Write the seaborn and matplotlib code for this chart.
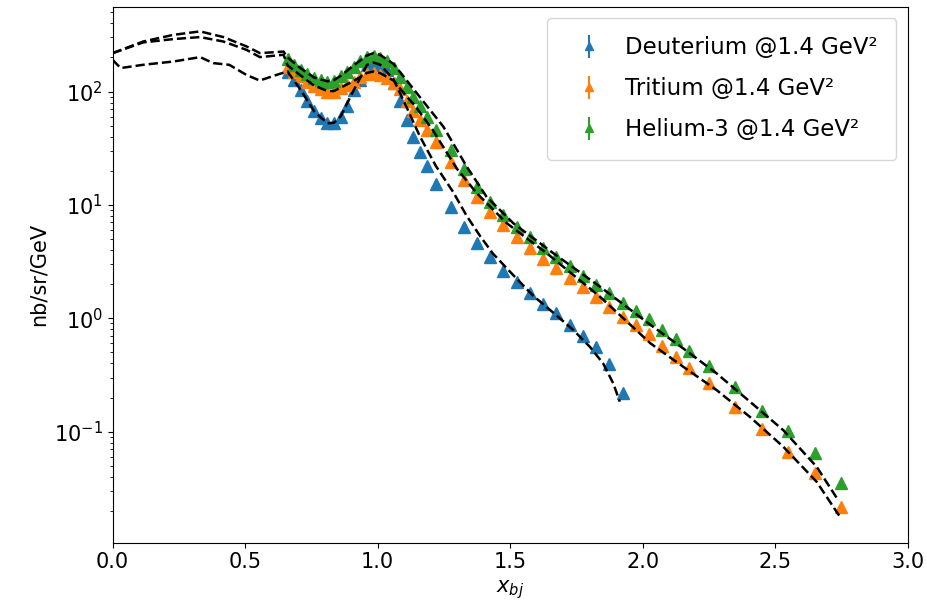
import numpy as np
import pandas as pd
import matplotlib
matplotlib.use("Agg")
import matplotlib.pyplot as plt
import seaborn as sns

# ---------------- data ----------------
x_pts = [0.66, 0.685, 0.71, 0.735, 0.76, 0.785, 0.81, 0.835, 0.86, 0.885, 0.91, 0.935,
         0.96, 0.985, 1.01, 1.035, 1.06, 1.085, 1.11, 1.135, 1.16, 1.185, 1.22, 1.275,
         1.325, 1.375, 1.425, 1.475, 1.525, 1.575, 1.625, 1.675, 1.725, 1.775, 1.825,
         1.875, 1.925, 1.975, 2.025, 2.075, 2.125, 2.175, 2.25, 2.35, 2.45, 2.55, 2.65, 2.75]

deut_y = [150, 127, 103, 82, 67, 58, 52.5, 53, 60, 75, 103, 127,
          172, 180, 172, 155, 120, 82, 56, 40, 29.5, 22.2, 15.2, 9.5,
          6.43, 4.59, 3.45, 2.60, 2.10, 1.68, 1.35, 1.11, 0.868, 0.699, 0.558,
          0.395, 0.220]

trit_y = [166, 150, 136, 122, 112, 105, 100, 100, 107, 115, 122, 134,
          143, 147, 140, 131, 119, 105, 82, 67.5, 56, 45.9, 36.2, 24.1,
          16.6, 11.8, 8.73, 6.59, 5.25, 4.15, 3.32, 2.76, 2.28, 1.88, 1.53,
          1.27, 1.03, 0.873, 0.727, 0.566, 0.455, 0.362, 0.268, 0.164, 0.105, 0.0664, 0.0428, 0.0217]

he3_y = [193, 172, 156, 143, 131, 127, 122, 125, 136, 150, 166, 184,
         201, 207, 197, 184, 161, 134, 109, 90.3, 73.8, 60.2, 45.9, 30.5,
         20.7, 14.3, 10.5, 8.08, 6.39, 5.19, 4.15, 3.47, 2.88, 2.37, 1.97,
         1.66, 1.37, 1.17, 0.98, 0.788, 0.653, 0.513, 0.379, 0.246, 0.153, 0.102, 0.0643, 0.035]

rel_err = 0.03

# model curves (dashed)
d_model_x = [0.0, 0.03, 0.115, 0.23, 0.33, 0.38, 0.44, 0.505, 0.555, 0.63, 0.66, 0.71, 0.76,
             0.81, 0.835, 0.86, 0.91, 0.96, 0.985, 1.01, 1.06, 1.11, 1.16, 1.22, 1.285, 1.336,
             1.387, 1.436, 1.512, 1.587, 1.663, 1.738, 1.801, 1.851, 1.889, 1.914]
d_model_y = [190, 161, 172, 184, 201, 178, 172, 140, 125, 143, 150, 103, 67,
             52.5, 53, 60, 103, 172, 180, 172, 128, 72, 40, 22, 13, 8.0,
             5.3, 3.7, 2.4, 1.58, 1.12, 0.79, 0.56, 0.40, 0.267, 0.184]

t_model_x = [0.0, 0.115, 0.229, 0.33, 0.418, 0.505, 0.556, 0.645, 0.66, 0.71, 0.76, 0.81,
             0.835, 0.86, 0.91, 0.96, 0.985, 1.01, 1.06, 1.11, 1.141, 1.21, 1.298, 1.374,
             1.487, 1.638, 1.839, 2.03, 2.153, 2.279, 2.405, 2.531, 2.657, 2.745]
t_model_y = [218, 271, 290, 302, 276, 233, 201, 211, 170, 138, 113, 101,
             101, 108, 124, 146, 150, 145, 125, 90, 75, 45, 21, 12.7,
             6.9, 3.75, 1.55, 0.60, 0.374, 0.233, 0.135, 0.0736, 0.0361, 0.0177]

h_model_x = [0.0, 0.115, 0.229, 0.33, 0.418, 0.505, 0.556, 0.645, 0.66, 0.71, 0.76, 0.81,
             0.835, 0.86, 0.91, 0.96, 0.985, 1.01, 1.06, 1.11, 1.185, 1.248, 1.336, 1.411,
             1.512, 1.663, 1.839, 2.03, 2.153, 2.279, 2.405, 2.531, 2.657, 2.738]
h_model_y = [218, 276, 316, 339, 302, 250, 218, 225, 200, 160, 133, 123,
             126, 137, 170, 208, 218, 210, 175, 125, 75, 49, 21.8, 11.8,
             6.89, 3.75, 1.90, 0.873, 0.543, 0.327, 0.184, 0.103, 0.049, 0.0249]

labels = ["Deuterium @1.4 GeV²", "Tritium @1.4 GeV²", "Helium-3 @1.4 GeV²"]
colors = ["#1f77b4", "#ff7f0e", "#2ca02c"]

# ---------------- plot ----------------
plt.rcParams['font.family'] = ['DejaVu Sans']

fig = plt.figure(figsize=(9.28, 6.07), dpi=100)
ax = fig.add_axes([0.1214, 0.106, 0.8566, 0.883])

for ys, lab, c in zip([deut_y, trit_y, he3_y], labels, colors):
    xs = x_pts[:len(ys)]
    yv = np.array(ys)
    ax.errorbar(xs, yv, yerr=rel_err * yv, fmt="^", color=c, ms=8.5,
                elinewidth=1.5, label=lab, zorder=2)

for mx, my in [(d_model_x, d_model_y), (t_model_x, t_model_y), (h_model_x, h_model_y)]:
    df = pd.DataFrame({"x": mx, "y": my})
    sns.lineplot(data=df, x="x", y="y", ax=ax, color="black", linestyle="--",
                 linewidth=1.8, estimator=None, sort=False, legend=False, zorder=3)

ax.set_yscale("log")
ax.set_xlim(0, 3.0)
ax.set_ylim(0.0105, 560)
ax.set_xlabel("$x_{bj}$", fontsize=15)
ax.set_ylabel("nb/sr/GeV", fontsize=15)
ax.tick_params(axis="both", labelsize=15)

ax.legend(loc="upper right", fontsize=16.5, frameon=True, markerscale=0.7,
          borderpad=0.8, handletextpad=0.6, labelspacing=0.78)

fig.savefig("out.png", dpi=100)
